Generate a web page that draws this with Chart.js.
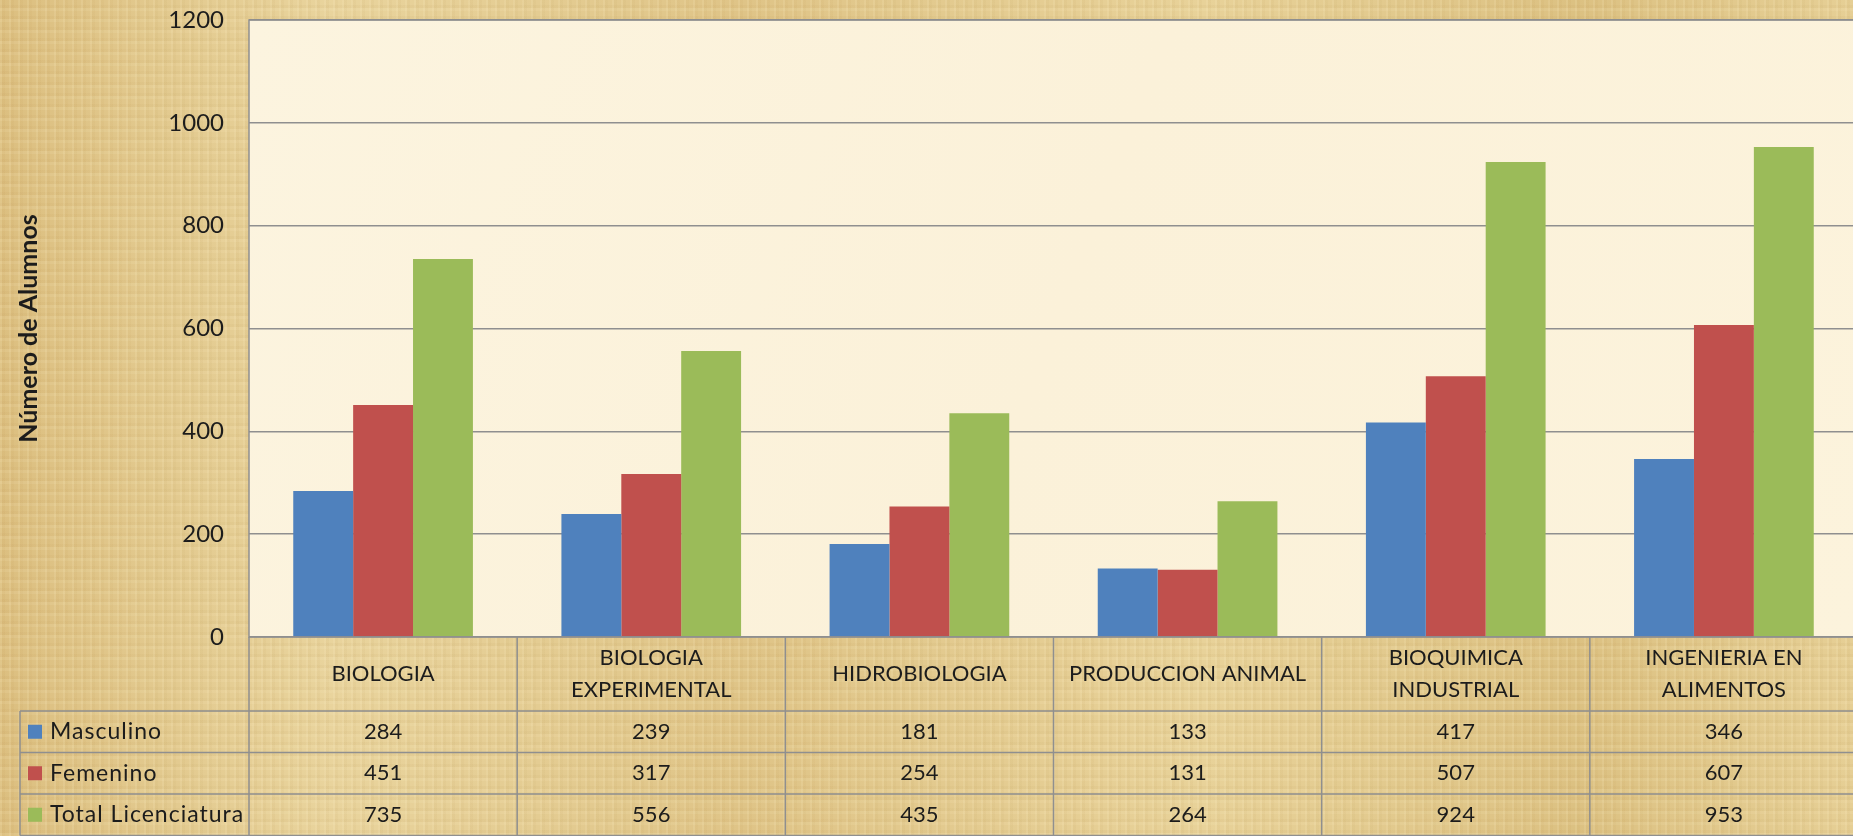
<!DOCTYPE html>
<html>
<head>
<meta charset="utf-8">
<script src="https://cdn.jsdelivr.net/npm/chart.js@4.4.1/dist/chart.umd.min.js"></script>
<style>
  html, body {
    margin: 0;
    padding: 0;
    overflow: hidden;
    width: 1853px;
    height: 836px;
  }
  body {
    background-color: #e2c687;
    background-image:
      repeating-linear-gradient(90deg, rgba(255,244,205,0.12) 0 2px, rgba(170,130,55,0.05) 2px 5px, transparent 5px 9px),
      repeating-linear-gradient(0deg, rgba(255,244,205,0.10) 0 3px, rgba(165,125,55,0.05) 3px 6px, transparent 6px 11px),
      linear-gradient(90deg, #dcbf80, #e9d49d 18%, #dfc487 40%, #e8d299 65%, #dcc182 85%, #e6cf95);
  }
  #wrap { position: absolute; left: 0; top: 0; }
</style>
</head>
<body>
<div id="wrap"><canvas id="alumnosChart" width="1860" height="836"></canvas></div>
<script>
const categories = [
  'BIOLOGIA',
  ['BIOLOGIA', 'EXPERIMENTAL'],
  'HIDROBIOLOGIA',
  'PRODUCCION ANIMAL',
  ['BIOQUIMICA', 'INDUSTRIAL'],
  ['INGENIERIA EN', 'ALIMENTOS']
];
const seriesNames = ['Masculino', 'Femenino', 'Total Licenciatura'];
const masculino = [284, 239, 181, 133, 417, 346];
const femenino = [451, 317, 254, 131, 507, 607];
const totalLic = [735, 556, 435, 264, 924, 953];
const yTicks = [0, 200, 400, 600, 800, 1000, 1200];

const colors = ['#4f81bd', '#c0504d', '#9bbb59'];
const lineColor = '#8f8f8f';
const textColor = '#1c1c1c';
const fontFamily = 'Lato, "Noto Sans", sans-serif';

// fondo crema del area de trazado y borde
const plotBg = {
  id: 'plotBg',
  beforeDraw(chart) {
    const {ctx, chartArea: a} = chart;
    ctx.save();
    const g = ctx.createLinearGradient(a.left, a.top, a.right, a.bottom);
    g.addColorStop(0, '#fcf4df');
    g.addColorStop(0.5, '#fbf1d9');
    g.addColorStop(1, '#fcf3dc');
    ctx.fillStyle = g;
    ctx.fillRect(a.left, a.top, a.right - a.left, a.bottom - a.top);
    ctx.restore();
  },
  afterDraw(chart) {
    const {ctx, chartArea: a} = chart;
    ctx.save();
    ctx.strokeStyle = lineColor;
    ctx.lineWidth = 1.5;
    ctx.strokeRect(a.left, a.top, a.right - a.left, a.bottom - a.top);
    ctx.restore();
  }
};

// tabla de datos debajo del grafico
const dataTable = {
  id: 'dataTable',
  afterDraw(chart) {
    const {ctx, chartArea: a} = chart;
    const x = chart.scales.x;
    const n = categories.length;
    const colW = x.width / n;
    const headerBottom = a.bottom + 74;
    const rowH = 41.5;
    const legendLeft = 20;
    const rows = [masculino, femenino, totalLic];
    const tableBottom = headerBottom + rowH * 3;

    ctx.save();
    ctx.strokeStyle = lineColor;
    ctx.lineWidth = 1.5;
    ctx.beginPath();
    for (let i = 0; i <= n; i++) {
      const xx = x.left + i * colW;
      ctx.moveTo(xx, a.bottom);
      ctx.lineTo(xx, tableBottom);
    }
    ctx.moveTo(legendLeft, headerBottom);
    ctx.lineTo(legendLeft, tableBottom);
    for (let r = 0; r <= 3; r++) {
      const yy = headerBottom + r * rowH;
      ctx.moveTo(legendLeft, yy);
      ctx.lineTo(x.right, yy);
    }
    ctx.stroke();

    ctx.fillStyle = textColor;
    ctx.font = '22px ' + fontFamily;
    ctx.textAlign = 'center';
    ctx.textBaseline = 'middle';
    const headMid = (a.bottom + headerBottom) / 2;
    categories.forEach((c, i) => {
      const cx = x.getPixelForValue(i);
      const lines = Array.isArray(c) ? c : [c];
      const lh = 32;
      lines.forEach((t, k) => {
        ctx.fillText(t, cx, headMid + (k - (lines.length - 1) / 2) * lh);
      });
    });

    rows.forEach((vals, r) => {
      const cy = headerBottom + r * rowH + rowH / 2;
      ctx.font = '22px ' + fontFamily;
      ctx.letterSpacing = '0px';
      vals.forEach((v, i) => {
        ctx.fillText(String(v), x.getPixelForValue(i), cy);
      });
      ctx.fillStyle = colors[r];
      ctx.fillRect(legendLeft + 8, cy - 7, 14, 14);
      ctx.fillStyle = textColor;
      ctx.textAlign = 'left';
      ctx.font = '23px ' + fontFamily;
      ctx.letterSpacing = '1px';
      ctx.fillText(seriesNames[r], legendLeft + 30, cy);
      ctx.textAlign = 'center';
    });
    ctx.restore();
  }
};

const ctx = document.getElementById('alumnosChart').getContext('2d');
new Chart(ctx, {
  type: 'bar',
  data: {
    labels: categories,
    datasets: [
      {label: seriesNames[0], data: masculino, backgroundColor: colors[0]},
      {label: seriesNames[1], data: femenino, backgroundColor: colors[1]},
      {label: seriesNames[2], data: totalLic, backgroundColor: colors[2]}
    ]
  },
  options: {
    responsive: false,
    animation: false,
    devicePixelRatio: 1,
    layout: {padding: {top: 20, right: 2, bottom: 199, left: 0}},
    datasets: {bar: {barPercentage: 1, categoryPercentage: 0.67}},
    plugins: {legend: {display: false}, tooltip: {enabled: false}},
    scales: {
      x: {display: false},
      y: {
        min: 0,
        max: 1200,
        afterBuildTicks(scale) { scale.ticks = yTicks.map(v => ({value: v})); },
        afterFit(scale) { scale.width = 249; },
        ticks: {
          padding: 0,
          color: textColor,
          font: {family: fontFamily, size: 24},
          callback: v => String(v)
        },
        grid: {color: lineColor, lineWidth: 1.5, drawTicks: true, tickLength: 25, tickColor: 'rgba(0,0,0,0)'},
        border: {display: false},
        title: {
          display: true,
          text: 'Número de Alumnos',
          color: textColor,
          padding: {top: 14, bottom: 0},
          font: {family: fontFamily, size: 25, weight: 'bold'}
        }
      }
    }
  },
  plugins: [plotBg, dataTable]
});
</script>
</body>
</html>
